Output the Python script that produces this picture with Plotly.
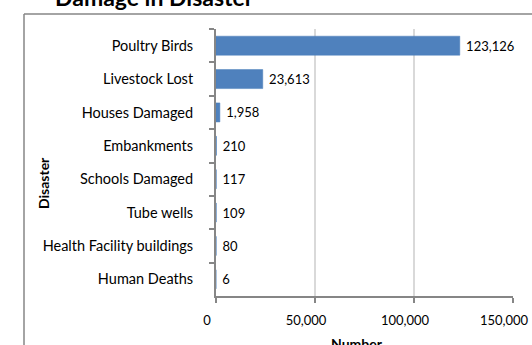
import plotly.graph_objects as go

categories = ["Poultry Birds", "Livestock Lost", "Houses Damaged", "Embankments",
              "Schools Damaged", "Tube wells", "Health Facility buildings", "Human Deaths"]
values = [123126, 23613, 1958, 210, 117, 109, 80, 6]
x_ticks = [0, 50000, 100000, 150000]
x_ticktext = ["0", "50,000", "100,000", "150,000"]

W, H = 532, 345
PL, PR, PT, PB = 216, 513, 29, 296          # plot box in page pixels
L, R, T, B = PL, W - PR, PT, H - PB
pw, ph = PR - PL, PB - PT

def px(x):
    return (x - PL) / pw

def py(y):
    return (PB - y) / ph

FONT = "Lato, 'Open Sans', sans-serif"

fig = go.Figure(go.Bar(
    x=values, y=categories, orientation="h",
    marker=dict(color="#4F81BD", line=dict(color="#4A7EBB", width=0.5)),
    width=0.57,
    texttemplate="\u00a0%{x:,}", textposition="outside", cliponaxis=False,
    textfont=dict(family=FONT, size=13, color="#000000"),
))

fig.update_layout(
    width=W, height=H,
    margin=dict(l=L, r=R, t=T, b=B, pad=0, autoexpand=False),
    paper_bgcolor="white", plot_bgcolor="white",
    showlegend=False,
    font=dict(family=FONT, size=13, color="#000000"),
    xaxis=dict(
        range=[0, 150000], tickvals=x_ticks, ticktext=x_ticktext,
        showgrid=True, gridcolor="#D9D9D9", gridwidth=2,
        showline=True, linecolor="#868686", linewidth=2,
        ticks="outside", ticklen=5, tickcolor="#868686", tickwidth=2,
        zeroline=False, ticklabelshift=-9, ticklabelstandoff=6,
        tickfont=dict(family=FONT, size=13, color="#000000"),
        fixedrange=True, automargin=False,
    ),
    yaxis=dict(
        categoryorder="array", categoryarray=categories, autorange="reversed",
        showline=True, linecolor="#868686", linewidth=2,
        ticks="outside", ticklen=5, tickcolor="#868686", tickwidth=2,
        tickson="boundaries", showgrid=False, zeroline=False,
        ticklabelstandoff=18,
        tickfont=dict(family=FONT, size=14.5, color="#000000"),
        fixedrange=True, automargin=False,
    ),
    shapes=[
        dict(type="line", xref="paper", yref="paper", x0=px(24), x1=px(545),
             y0=py(14), y1=py(14), line=dict(color="#868686", width=1.5)),
        dict(type="line", xref="paper", yref="paper", x0=px(24), x1=px(24),
             y0=py(14), y1=py(360), line=dict(color="#868686", width=1.5)),
    ],
    annotations=[
        dict(text="<b>Damage in Disaster</b>", xref="paper", yref="paper",
             x=px(154), y=py(-3), xanchor="center", yanchor="middle",
             showarrow=False, font=dict(family=FONT, size=23, color="#000000")),
        dict(text="<b>Number</b>", xref="paper", yref="paper",
             x=px(357), y=py(343), xanchor="center", yanchor="middle",
             showarrow=False, font=dict(family=FONT, size=14, color="#000000")),
        dict(text="<b>Disaster</b>", xref="paper", yref="paper",
             x=px(43), y=py(183), xanchor="center", yanchor="middle", textangle=-90,
             showarrow=False, font=dict(family=FONT, size=14, color="#000000")),
    ],
)

fig.write_html(
    "out.html",
    config={"displayModeBar": False, "staticPlot": True},
    post_script="document.body.style.margin='0';document.documentElement.style.overflow='hidden';",
)
